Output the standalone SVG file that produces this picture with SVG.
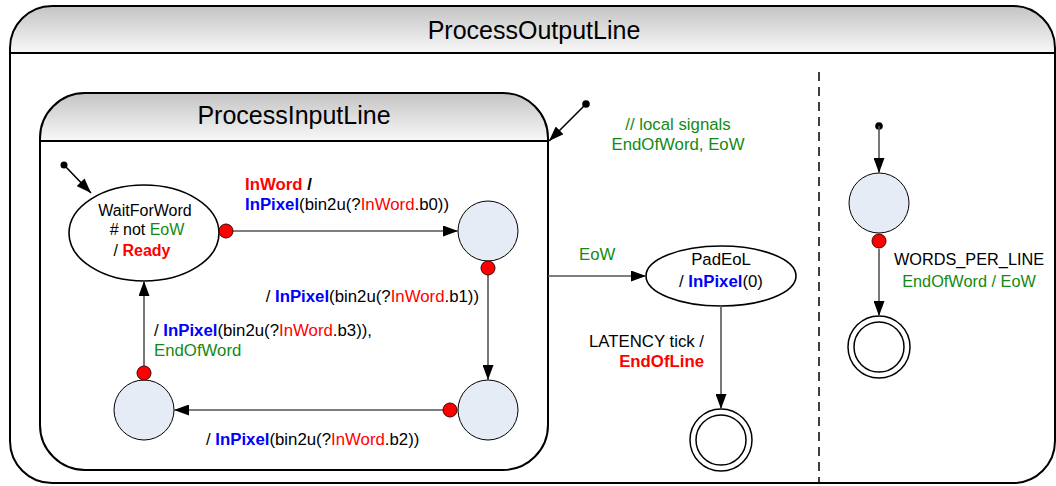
<svg xmlns="http://www.w3.org/2000/svg" width="1056" height="486" viewBox="0 0 1056 486">
<style>
text{font-family:"Liberation Sans",Arial,sans-serif;font-size:16.8px;fill:#000}
.title{font-size:25px}
.small{font-size:16px}
.r{fill:#ff0000}
.b{fill:#0000ff;font-weight:bold}
.g{fill:#138a13}
.bold{font-weight:bold}
.box{fill:none;stroke:#000;stroke-width:2}
.st{fill:#e6ecf6;stroke:#000;stroke-width:1}
.ell{fill:#fff;stroke:#000;stroke-width:1.6}
.dot{fill:#ff0000;stroke:#400;stroke-width:1}
.ini{fill:#000}
.tr{stroke:#555;stroke-width:1.6;fill:none;marker-end:url(#ah)}
.fin{fill:#fff;stroke:#000;stroke-width:1.5}
</style>
<defs>
<linearGradient id="hdr" x1="0" y1="0" x2="0" y2="1">
<stop offset="0" stop-color="#c4c4c4"/>
<stop offset="1" stop-color="#f8f8f8"/>
</linearGradient>
<marker id="ah" markerUnits="userSpaceOnUse" markerWidth="15" markerHeight="11" refX="15" refY="5.5" orient="auto">
<path d="M0,0 L15,5.5 L0,11 Z" fill="#000"/>
</marker>
</defs>

<g id="ProcessOutputLine">
<path d="M10,53 V48 A42,42 0 0 1 52,6 H1013 A42,42 0 0 1 1055,48 V53 Z" fill="url(#hdr)"/>
<rect x="10" y="6" width="1045" height="477" rx="42" ry="42" class="box"/>
<line x1="10" y1="53" x2="1055" y2="53" stroke="#000" stroke-width="2"/>
<text x="534" y="39" text-anchor="middle" class="title">ProcessOutputLine</text>
<line x1="819" y1="72" x2="819" y2="483" stroke="#000" stroke-width="1.5" stroke-dasharray="9 6"/>
</g>

<g id="ProcessInputLine">
<path d="M40,141 V138 A45,45 0 0 1 85,93 H503 A45,45 0 0 1 548,138 V141 Z" fill="url(#hdr)"/>
<rect x="40" y="93" width="508" height="377" rx="45" ry="45" class="box"/>
<line x1="40" y1="141" x2="548" y2="141" stroke="#000" stroke-width="2"/>
<text x="294" y="124" text-anchor="middle" class="title">ProcessInputLine</text>
</g>

<g id="localSignals">
<text x="678" y="130" text-anchor="middle" class="g">// local signals</text>
<text x="678" y="150" text-anchor="middle" class="g">EndOfWord, EoW</text>
</g>

<g id="WaitForWord">
<ellipse cx="144" cy="233" rx="75" ry="48" class="ell"/>
<text x="145" y="216" text-anchor="middle" class="small">WaitForWord</text>
<text x="147" y="235" text-anchor="middle" class="small"># not <tspan class="g">EoW</tspan></text>
<text x="142" y="256" text-anchor="middle" class="small">/ <tspan class="r bold">Ready</tspan></text>
</g>

<g id="S1"><circle cx="488" cy="231" r="30" class="st"/></g>
<g id="S2"><circle cx="488" cy="410" r="30" class="st"/></g>
<g id="S3"><circle cx="144" cy="410" r="30" class="st"/></g>

<g id="PadEoL">
<ellipse cx="721" cy="276" rx="75" ry="30" class="ell"/>
<text x="721" y="265" text-anchor="middle">PadEoL</text>
<text x="721" y="287" text-anchor="middle">/ <tspan class="b">InPixel</tspan>(0)</text>
</g>

<g id="FinalLine">
<circle cx="721" cy="440" r="31" class="fin"/>
<circle cx="721" cy="440" r="25" class="fin"/>
</g>

<g id="Counter"><circle cx="879" cy="203" r="30" class="st"/></g>

<g id="FinalWords">
<circle cx="879" cy="347" r="31" class="fin"/>
<circle cx="879" cy="347" r="25" class="fin"/>
</g>

<g id="connectors">
<circle cx="64" cy="165" r="3.5" class="ini"/>
<line x1="64" y1="165" x2="91" y2="193" stroke="#000" stroke-width="1.6" marker-end="url(#ah)"/>
<circle cx="586" cy="104" r="3.8" class="ini"/>
<line x1="586" y1="104" x2="549" y2="141" stroke="#000" stroke-width="1.6" marker-end="url(#ah)"/>

<line x1="233" y1="231" x2="458" y2="231" class="tr"/>
<circle cx="226" cy="231" r="7" class="dot"/>
<text x="245" y="190"><tspan class="r bold">InWord</tspan> <tspan class="bold"> /</tspan></text>
<text x="245" y="210"><tspan class="b">InPixel</tspan>(bin2u(?<tspan class="r">InWord</tspan>.b0))</text>

<line x1="488" y1="275" x2="488" y2="380" class="tr"/>
<circle cx="488" cy="268" r="7" class="dot"/>
<text x="479" y="302" text-anchor="end">/ <tspan class="b">InPixel</tspan>(bin2u(?<tspan class="r">InWord</tspan>.b1))</text>

<line x1="443" y1="410" x2="174" y2="410" class="tr"/>
<circle cx="450" cy="410" r="7" class="dot"/>
<text x="206" y="445">/ <tspan class="b">InPixel</tspan>(bin2u(?<tspan class="r">InWord</tspan>.b2))</text>

<line x1="144" y1="366" x2="144" y2="281" class="tr"/>
<circle cx="144" cy="373" r="7" class="dot"/>
<text x="154" y="336">/ <tspan class="b">InPixel</tspan>(bin2u(?<tspan class="r">InWord</tspan>.b3)),</text>
<text x="154" y="356" class="g">EndOfWord</text>

<line x1="548" y1="276" x2="646" y2="276" class="tr"/>
<text x="579" y="260" class="g">EoW</text>

<line x1="721" y1="306" x2="721" y2="409" class="tr"/>
<text x="704" y="347" text-anchor="end">LATENCY tick /</text>
<text x="704" y="367" text-anchor="end" class="r bold">EndOfLine</text>

<circle cx="879" cy="126" r="3.8" class="ini"/>
<line x1="879" y1="126" x2="879" y2="173" class="tr"/>

<line x1="879" y1="249" x2="879" y2="316" class="tr"/>
<circle cx="879" cy="241" r="7" class="dot"/>
<text x="969" y="265" text-anchor="middle" style="font-size:16.3px">WORDS_PER_LINE</text>
<text x="969" y="287" text-anchor="middle" class="g" style="font-size:16.3px">EndOfWord / EoW</text>
</g>
</svg>
